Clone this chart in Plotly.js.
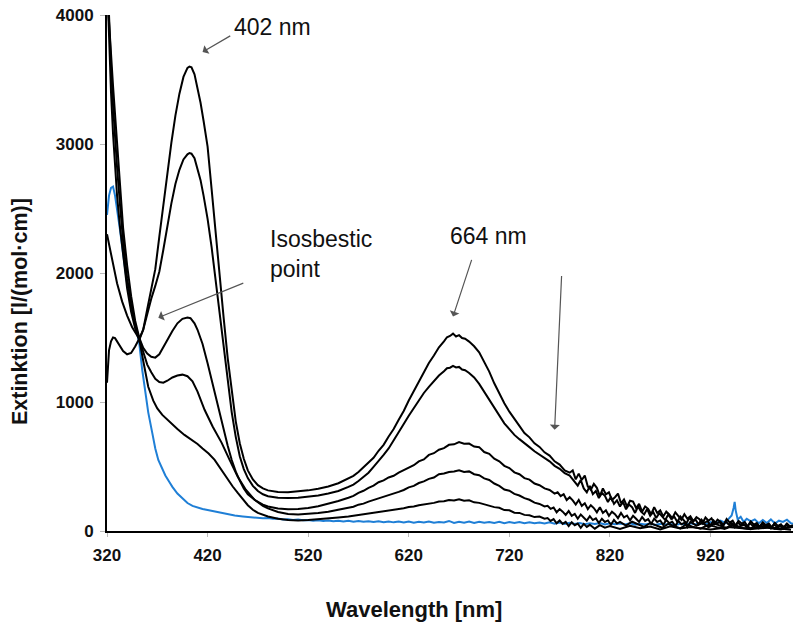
<!DOCTYPE html>
<html>
<head>
<meta charset="utf-8">
<script src="https://cdn.plot.ly/plotly-3.0.1.min.js"></script>
<style>html,body{margin:0;padding:0;background:#fff;}#chart{width:800px;height:625px;}</style>
</head>
<body>
<div id="chart"></div>
<script>
// ---- Data ----
const tickValsX = [320, 420, 520, 620, 720, 820, 920];
const tickValsY = [0, 1000, 2000, 3000, 4000];

// Curve 1 (strongest 402 nm / 664 nm bands)
const wl1 = [320,322,324,326,328,330,333,336,340,344,348,352,356,360,364,368,372,376,380,384,388,392,396,400,402,404,407,410,413,416,420,424,428,432,436,440,444,448,452,456,460,465,470,475,480,490,500,510,520,530,540,550,
  560,565,570,575,580,585,590,595,600,605,610,615,620,625,630,635,640,645,650,655,658,661,664,667,670,673,676,680,685,690,695,700,705,710,715,720,725,730,735,740,745,750,755,760,765,770,775,780,
  783,786,789,792,795,798,801,804,807,810,813,816,819,822,825,828,831,834,837,840,843,846,849,852,855,858,861,864,867,870,873,876,879,882,885,888,891,894,897,900,903,906,909,912,915,918,921,924,927,930,933,936,939,942,945,948,951,954,957,960,963,966,969,972,975,978,981,984,987,990,993,996,999,1002];
const ext1 = [4300,3800,3400,3080,2820,2600,2350,2130,1880,1700,1570,1480,1560,1720,1870,2030,2280,2530,2760,3010,3220,3390,3520,3590,3600,3595,3540,3440,3320,3180,2980,2650,2300,1980,1650,1340,1070,850,680,560,470,400,355,330,315,302,300,305,315,328,345,370,
  410,428,458,497,532,568,622,668,733,790,862,930,1012,1082,1162,1228,1303,1360,1424,1470,1502,1512,1530,1508,1518,1496,1490,1468,1432,1385,1310,1236,1145,1066,990,925,866,815,760,726,680,652,610,585,540,515,470,452,
  470,400,445,395,430,345,320,365,335,270,330,285,300,240,262,290,215,245,190,235,228,178,210,150,190,172,130,185,140,160,112,150,128,100,145,118,88,130,95,115,75,108,92,60,105,80,98,55,88,72,45,92,66,80,40,78,58,70,35,74,50,62,30,68,45,58,28,64,40,52,22,58,35,45];

// Curve 2
const wl2 = [320,322,324,326,328,330,333,336,340,344,348,352,356,360,364,368,372,376,380,384,388,392,396,400,402,404,407,410,413,416,420,424,428,432,436,440,444,448,452,456,460,465,470,475,480,490,500,510,520,530,540,550,
  560,565,570,575,580,585,590,595,600,605,610,615,620,625,630,635,640,645,650,655,658,661,664,667,670,673,676,680,685,690,695,700,705,710,715,720,725,730,735,740,745,750,755,760,765,770,775,780,
  782,785,788,791,794,797,800,803,806,809,812,815,818,821,824,827,830,833,836,839,842,845,848,851,854,857,860,863,866,869,872,875,878,881,884,887,890,893,896,899,902,905,908,911,914,917,920,923,926,929,932,935,938,941,944,947,950,953,956,959,962,965,968,971,974,977,980,983,986,989,992,995,998,1001];
const ext2 = [4400,3950,3600,3300,3050,2820,2520,2250,1960,1760,1600,1490,1560,1690,1800,1900,2010,2180,2370,2540,2690,2800,2880,2920,2930,2925,2890,2810,2720,2600,2420,2200,1950,1680,1420,1160,920,730,580,480,410,350,310,285,270,258,255,258,265,275,290,310,
  342,360,388,418,452,497,540,590,640,700,768,830,893,955,1012,1070,1118,1165,1205,1238,1262,1266,1280,1268,1272,1252,1246,1225,1190,1140,1080,1020,955,890,835,790,745,712,678,650,618,592,565,540,505,482,448,430,
  410,380,352,395,330,300,350,285,310,255,295,272,225,265,210,238,190,225,168,205,185,140,190,150,128,170,118,148,100,138,115,85,128,92,110,70,112,84,60,102,75,90,52,88,62,78,42,82,55,70,35,75,50,62,30,68,44,56,26,62,40,50,22,56,36,46,20,52,32,42,18,48,28,38];

// Curve 3
const wl3 = [320,322,324,326,329,333,336,340,344,348,352,356,360,364,368,372,376,380,385,390,395,400,403,407,410,415,420,424,428,432,436,440,444,448,452,456,460,467,475,480,490,500,510,520,530,540,550,
  560,565,570,575,580,585,590,595,600,605,610,615,620,625,630,635,640,645,650,655,660,665,670,675,680,685,690,695,700,705,710,715,720,725,730,735,740,745,750,755,760,765,
  768,771,774,777,780,783,786,789,792,795,798,801,804,807,810,813,816,819,822,825,828,831,834,837,840,843,846,849,852,855,858,861,864,867,870,873,876,879,882,885,888,891,894,897,900,906,912,918,924,930,936,942,948,954,960,966,972,978,984,990,996,1002];
const ext3 = [4200,3900,3700,3450,3100,2650,2350,2060,1820,1630,1500,1420,1375,1350,1344,1370,1420,1480,1550,1610,1645,1655,1650,1610,1560,1450,1300,1170,1040,910,790,660,550,460,390,330,285,240,205,190,175,168,170,178,192,210,232,
  258,272,296,312,335,352,378,392,415,428,452,470,492,510,540,555,590,603,630,642,668,672,690,676,678,655,650,612,598,560,540,505,488,455,440,410,398,368,355,330,318,290,
  300,270,285,240,262,238,205,240,195,215,170,200,178,145,185,140,160,118,150,130,100,140,105,120,82,118,95,70,108,78,92,55,96,70,82,48,86,60,72,38,78,52,64,30,70,42,62,28,58,40,22,55,34,48,20,46,30,40,16,42,26,32];

// Curve 4
const wl4 = [320,321,322,324,326,328,330,333,336,340,344,348,352,356,360,364,368,372,376,380,385,390,395,400,405,410,417,425,434,442,450,458,467,475,480,490,500,510,520,530,540,550,
  560,565,570,575,580,585,590,595,600,605,610,615,620,625,630,635,640,645,650,655,660,665,670,675,680,685,690,695,700,705,710,715,720,725,730,735,740,745,750,755,
  758,761,764,767,770,773,776,779,782,785,788,791,794,797,800,803,806,809,812,815,818,821,824,827,830,836,842,848,854,860,866,872,878,884,890,896,902,910,918,926,934,942,950,960,970,980,990,1000];
const ext4 = [1150,1300,1400,1470,1500,1495,1470,1430,1395,1370,1380,1430,1490,1390,1290,1230,1180,1155,1150,1165,1190,1205,1212,1200,1160,1080,940,810,683,550,420,320,240,195,175,148,132,128,132,140,150,164,
  180,188,204,212,228,240,256,262,278,290,303,318,338,350,372,385,404,415,440,446,458,462,470,458,462,440,432,408,396,368,350,322,312,288,275,255,242,220,210,190,
  195,172,182,145,170,150,125,155,118,132,95,128,104,80,115,85,98,62,95,70,82,48,85,58,70,42,72,50,32,62,44,25,56,38,20,52,34,18,48,30,16,44,26,14,40,22,12,34];

// Curve 5
const wl5 = [320,323,326,330,335,340,345,352,356,361,366,370,375,380,385,390,397,404,410,415,421,427,433,440,445,450,455,460,465,470,480,490,500,510,520,530,540,550,
  560,565,570,575,580,585,590,595,600,605,610,615,620,625,630,635,640,645,650,655,660,665,670,675,680,685,690,695,700,705,710,715,720,725,730,735,740,745,750,755,
  758,761,764,767,770,773,776,779,782,785,788,791,794,797,800,805,810,815,820,830,840,850,860,870,880,890,900,920,940,960,980,1000];
const ext5 = [2300,2180,2070,1920,1780,1670,1580,1490,1320,1118,1010,950,900,862,825,790,745,707,675,640,600,551,480,400,345,295,245,200,165,140,112,95,86,82,85,90,98,105,
  112,118,124,128,136,140,148,150,158,162,168,176,186,190,200,205,215,218,228,230,240,236,246,234,238,222,218,206,200,185,180,162,160,142,140,125,122,108,112,95,
  100,78,92,60,82,55,70,38,68,45,58,25,55,32,48,18,45,26,38,15,40,22,35,12,36,20,30,12,30,15,28,10];

// Blue reference spectrum
const wlB = [320,322,324,326,328,330,333,336,340,344,348,352,355,358,361,365,368,371,375,378,382,385,390,395,400,405,410,415,420,427,434,440,447,455,464,470,475,480,485,490,495,500,505,510,515,520,525,530,535,540,545,550,555,560,565,570,575,580,585,590,595,600,605,610,615,620,625,630,635,640,645,650,655,660,665,670,675,680,685,690,695,700,705,710,715,720,725,730,735,740,745,750,755,760,765,770,775,780,785,790,795,800,805,810,815,820,825,830,835,840,845,850,855,860,865,870,875,880,885,890,895,900,905,910,915,920,925,930,935,938,941,943,944,945,947,950,953,956,960,964,968,972,976,980,984,988,992,996,1000,1002];
const extB = [2450,2600,2660,2670,2600,2500,2330,2150,1920,1740,1600,1460,1250,1072,920,761,640,551,480,430,380,342,290,250,217,195,180,170,162,150,140,130,120,113,106,102,98,100,94,96,90,92,86,90,84,86,80,84,78,82,76,80,74,79,72,78,71,76,70,75,68,74,67,73,66,74,65,72,66,74,64,70,66,78,63,72,65,73,62,72,64,70,62,71,60,69,62,70,60,68,60,66,58,68,56,66,54,64,55,62,52,60,54,62,50,60,52,58,50,60,48,56,50,58,46,56,50,55,46,56,48,60,50,62,52,70,55,80,60,95,120,180,225,160,90,110,70,95,75,90,60,85,62,90,58,80,70,88,60,55];

// ---- Chart ----
const black = {color: '#000000', width: 2};
const traces = [
  {x: wlB, y: extB, mode: 'lines', line: {color: '#1f7fd6', width: 2}},
  {x: wl5, y: ext5, mode: 'lines', line: black},
  {x: wl4, y: ext4, mode: 'lines', line: black},
  {x: wl3, y: ext3, mode: 'lines', line: black},
  {x: wl2, y: ext2, mode: 'lines', line: black},
  {x: wl1, y: ext1, mode: 'lines', line: black}
];

const fam = 'Liberation Sans, Arial, sans-serif';
const tickFont = {family: fam, size: 17, color: '#111', weight: 'bold'};
const annFont = {family: fam, size: 23, color: '#111'};
const arrowCol = '#555555';

const layout = {
  width: 800, height: 625,
  margin: {l: 107, r: 7, t: 15, b: 94},
  paper_bgcolor: '#ffffff', plot_bgcolor: '#ffffff',
  showlegend: false,
  xaxis: {
    range: [320, 1002], tickvals: tickValsX, ticktext: tickValsX.map(String),
    showgrid: false, zeroline: false, showline: true, linecolor: '#000', linewidth: 2,
    ticks: 'outside', ticklen: 4, tickcolor: '#bbbbbb', tickwidth: 1, ticklabelstandoff: 4,
    tickfont: tickFont
  },
  yaxis: {
    range: [0, 4000], tickvals: tickValsY, ticktext: tickValsY.map(String),
    showgrid: false, zeroline: false, showline: true, linecolor: '#000', linewidth: 2,
    ticks: 'outside', ticklen: 5, tickcolor: '#bbbbbb', tickwidth: 1, ticklabelstandoff: 3,
    tickfont: tickFont
  },
  annotations: [
    // axis titles
    {xref: 'paper', yref: 'paper', x: 0.4475, y: -0.153, text: 'Wavelength [nm]', showarrow: false, xanchor: 'center', yanchor: 'middle',
     font: {family: fam, size: 22, color: '#111', weight: 'bold'}},
    {xref: 'paper', yref: 'paper', x: -0.127, y: 0.426, text: 'Extinktion [l/(mol·cm)]', showarrow: false, textangle: -90, xanchor: 'center', yanchor: 'middle',
     font: {family: fam, size: 21.5, color: '#111', weight: 'bold'}},
    // labels and arrows
    {xref: 'x', yref: 'y', x: 444, y: 3905, text: '402 nm', showarrow: false, xanchor: 'left', yanchor: 'middle', font: annFont},
    {xref: 'x', yref: 'y', x: 415, y: 3713, axref: 'x', ayref: 'y', ax: 444, ay: 3845, text: '', showarrow: true, arrowhead: 1, arrowsize: 1.4, arrowwidth: 1.2, arrowcolor: arrowCol},
    {xref: 'x', yref: 'y', x: 480, y: 2150, text: 'Isosbestic<br>point', showarrow: false, xanchor: 'left', yanchor: 'middle', align: 'left', font: annFont},
    {xref: 'x', yref: 'y', x: 371, y: 1654, axref: 'x', ayref: 'y', ax: 457, ay: 1926, text: '', showarrow: true, arrowhead: 1, arrowsize: 1.4, arrowwidth: 1.2, arrowcolor: arrowCol},
    {xref: 'x', yref: 'y', x: 699, y: 2283, text: '664 nm', showarrow: false, xanchor: 'center', yanchor: 'middle', font: annFont},
    {xref: 'x', yref: 'y', x: 664, y: 1662, axref: 'x', ayref: 'y', ax: 683, ay: 2113, text: '', showarrow: true, arrowhead: 1, arrowsize: 1.4, arrowwidth: 1.2, arrowcolor: arrowCol},
    {xref: 'x', yref: 'y', x: 765, y: 784, axref: 'x', ayref: 'y', ax: 772, ay: 1988, text: '', showarrow: true, arrowhead: 1, arrowsize: 1.4, arrowwidth: 1.2, arrowcolor: arrowCol}
  ]
};

Plotly.newPlot('chart', traces, layout, {displayModeBar: false, staticPlot: true});
</script>
</body>
</html>
